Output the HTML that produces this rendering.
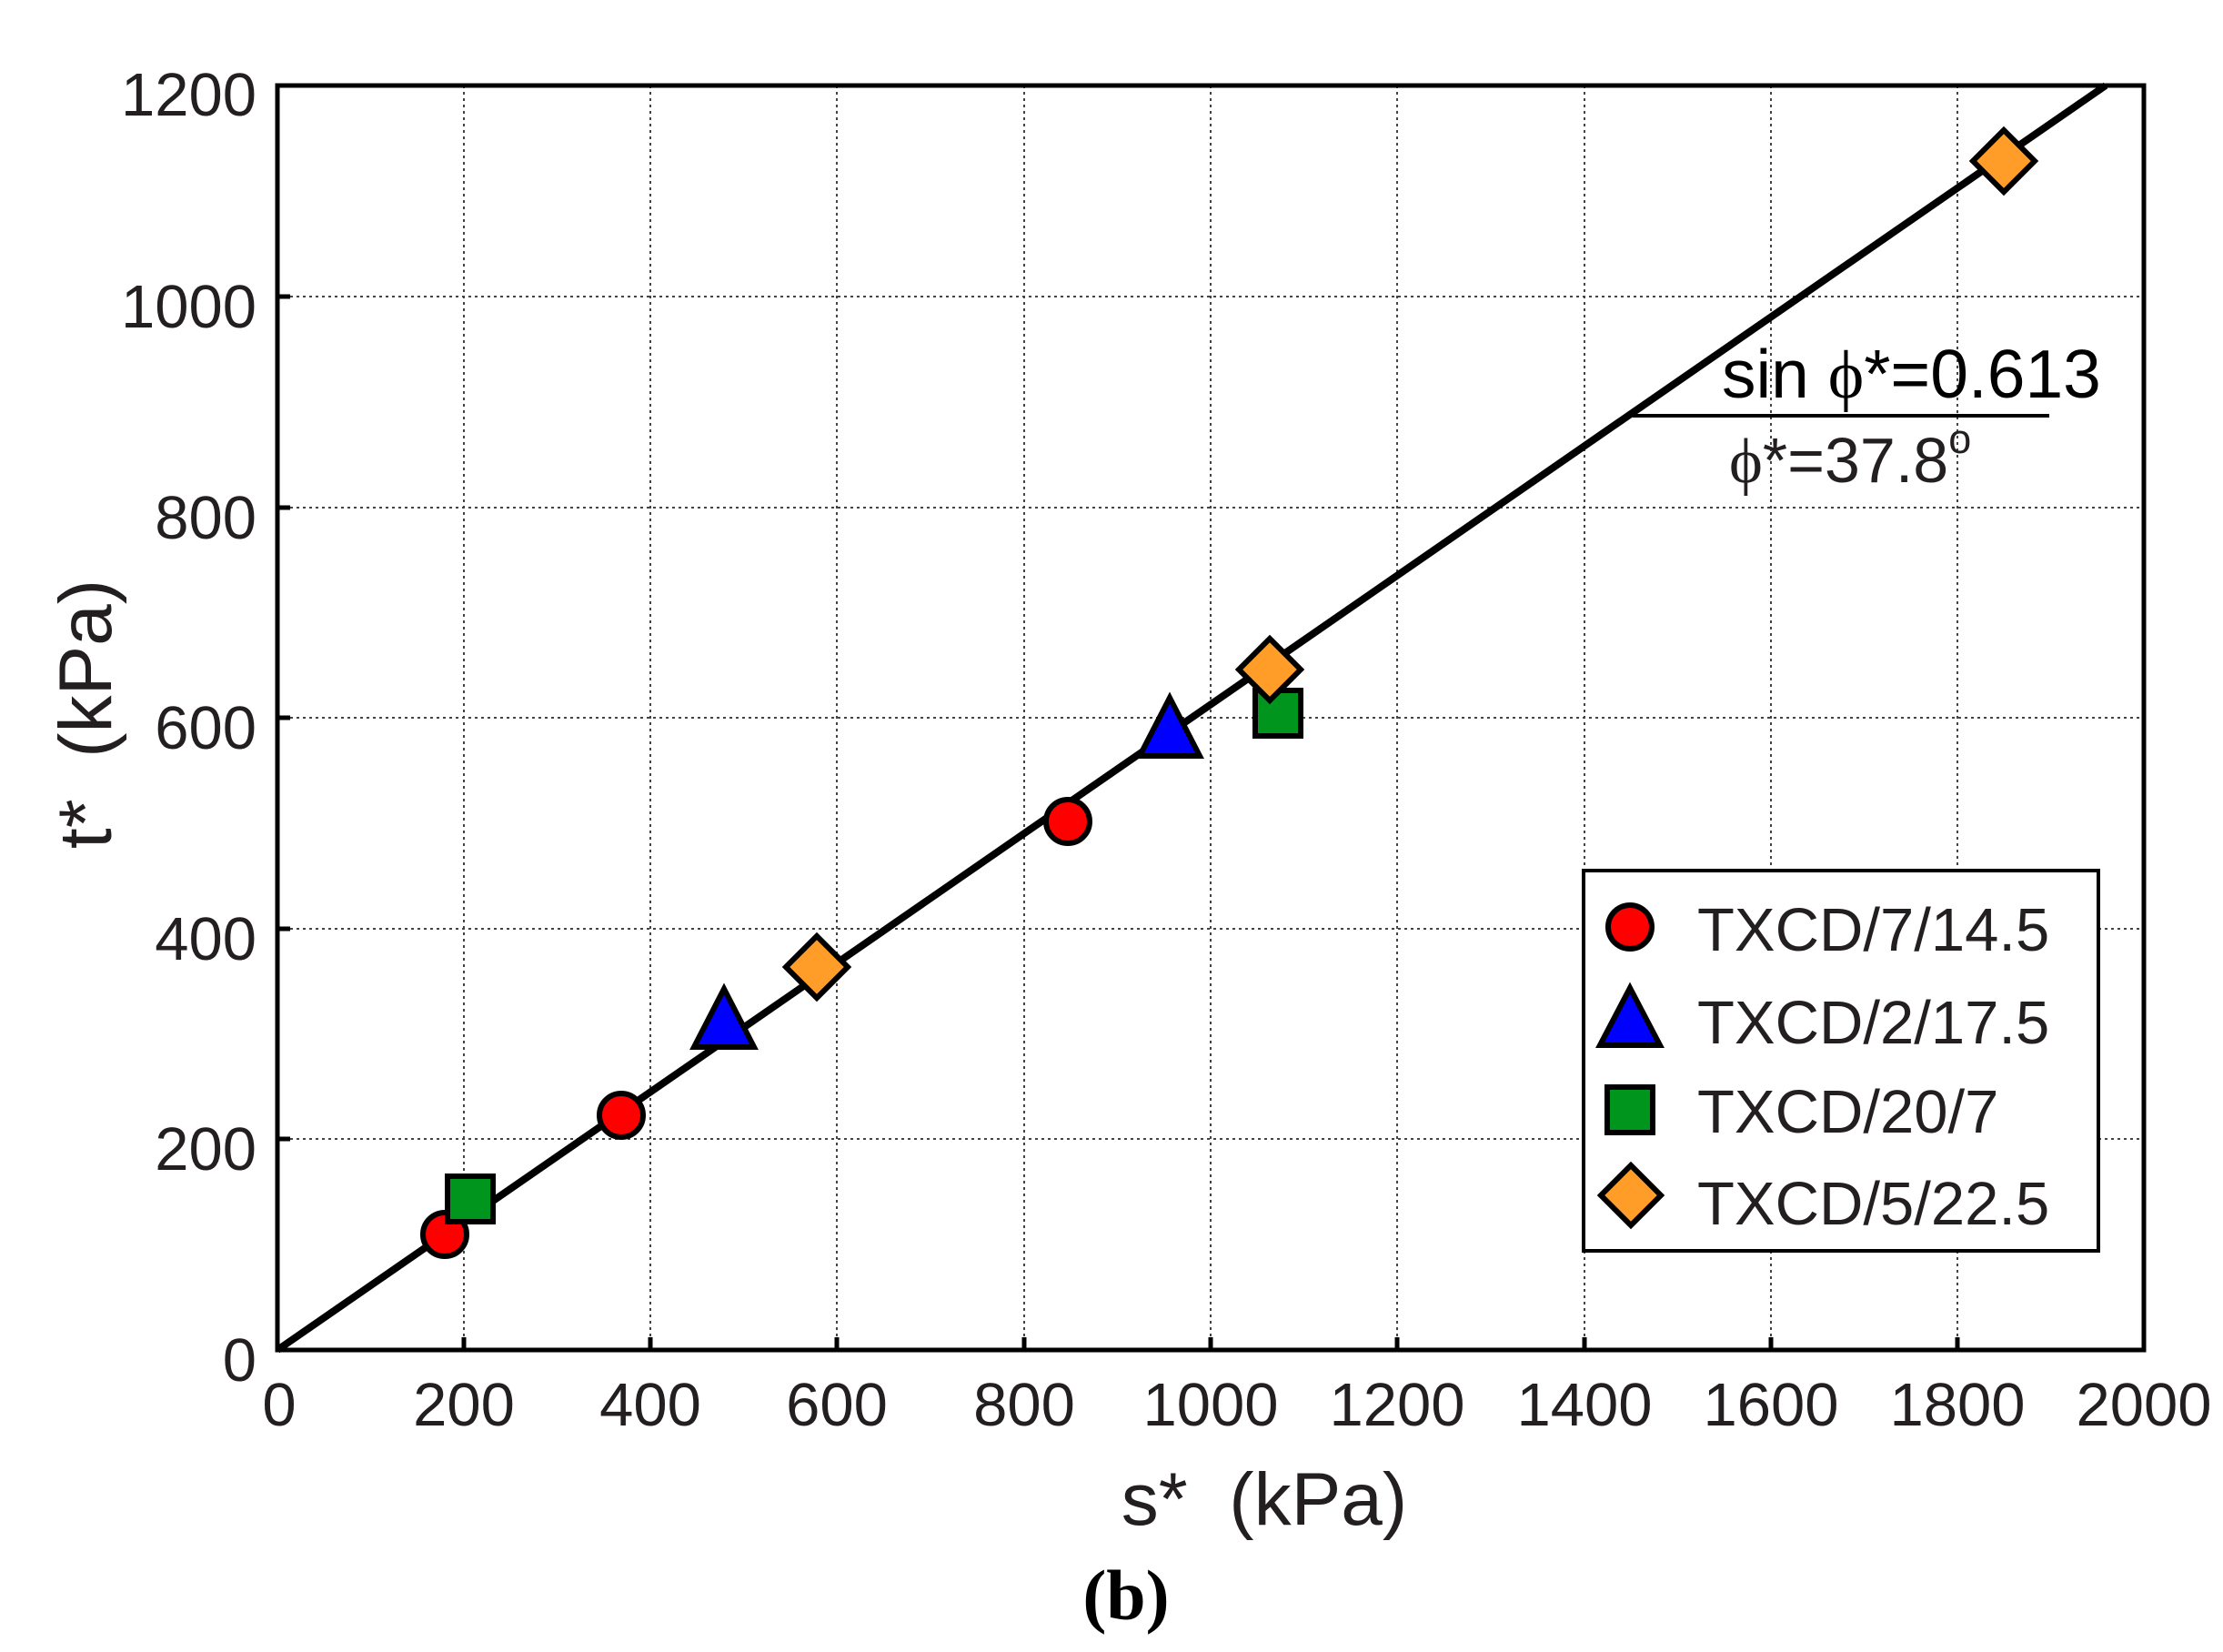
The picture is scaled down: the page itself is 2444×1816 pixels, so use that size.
<!DOCTYPE html>
<html><head><meta charset="utf-8"><style>html,body{margin:0;padding:0;background:#fff}svg{display:block}</style></head>
<body>
<svg width="2444" height="1816" viewBox="0 0 2444 1816" xmlns="http://www.w3.org/2000/svg" font-family="Liberation Sans, Arial, sans-serif">
<rect width="2444" height="1816" fill="#fff"/>
<g stroke="#444" stroke-width="2" stroke-dasharray="3,4">
<line x1="510" y1="94" x2="510" y2="1484"/><line x1="715" y1="94" x2="715" y2="1484"/><line x1="920" y1="94" x2="920" y2="1484"/><line x1="1126" y1="94" x2="1126" y2="1484"/><line x1="1331" y1="94" x2="1331" y2="1484"/><line x1="1536" y1="94" x2="1536" y2="1484"/><line x1="1742" y1="94" x2="1742" y2="1484"/><line x1="1947" y1="94" x2="1947" y2="1484"/><line x1="2152" y1="94" x2="2152" y2="1484"/>
<line x1="305" y1="326" x2="2357" y2="326"/><line x1="305" y1="558" x2="2357" y2="558"/><line x1="305" y1="789" x2="2357" y2="789"/><line x1="305" y1="1021" x2="2357" y2="1021"/><line x1="305" y1="1252" x2="2357" y2="1252"/>
</g>
<g stroke="#000" stroke-width="5">
<line x1="510" y1="1484" x2="510" y2="1470"/><line x1="715" y1="1484" x2="715" y2="1470"/><line x1="920" y1="1484" x2="920" y2="1470"/><line x1="1126" y1="1484" x2="1126" y2="1470"/><line x1="1331" y1="1484" x2="1331" y2="1470"/><line x1="1536" y1="1484" x2="1536" y2="1470"/><line x1="1742" y1="1484" x2="1742" y2="1470"/><line x1="1947" y1="1484" x2="1947" y2="1470"/><line x1="2152" y1="1484" x2="2152" y2="1470"/>
<line x1="305" y1="326" x2="319" y2="326"/><line x1="305" y1="558" x2="319" y2="558"/><line x1="305" y1="789" x2="319" y2="789"/><line x1="305" y1="1021" x2="319" y2="1021"/><line x1="305" y1="1252" x2="319" y2="1252"/>
</g>
<rect x="305" y="94" width="2052" height="1390" fill="none" stroke="#000" stroke-width="5"/>
<line x1="305" y1="1484" x2="2315" y2="94" stroke="#000" stroke-width="8"/>
<g stroke="#000" stroke-width="6">
<circle cx="489" cy="1357" r="24" fill="#f00"/>
<circle cx="683" cy="1226" r="24" fill="#f00"/>
<circle cx="1174" cy="903" r="24" fill="#f00"/>
<polygon points="796,1087 763,1151 829,1151" fill="#00f"/>
<polygon points="1286,767 1253,831 1319,831" fill="#00f"/>
<rect x="492" y="1293" width="50" height="50" fill="#00961e"/>
<rect x="1380" y="759" width="50" height="50" fill="#00961e"/>
<polygon points="898,1029 932,1063 898,1097 864,1063" fill="#ff9d28"/>
<polygon points="1396,702 1430,736 1396,770 1362,736" fill="#ff9d28"/>
<polygon points="2203,143 2237,177 2203,211 2169,177" fill="#ff9d28"/>
</g>
<rect x="1741" y="957" width="566" height="418" fill="#fff" stroke="#000" stroke-width="4"/>
<g stroke="#000" stroke-width="6">
<circle cx="1792" cy="1019" r="24" fill="#f00"/>
<polygon points="1792,1086 1759,1149 1825,1149" fill="#00f"/>
<rect x="1767" y="1195" width="50" height="50" fill="#00961e"/>
<polygon points="1793,1281 1826,1314 1793,1347 1760,1314" fill="#ff9d28"/>
</g>
<g font-size="67" fill="#231f20">
<text x="1866" y="1045">TXCD/7/14.5</text>
<text x="1866" y="1147">TXCD/2/17.5</text>
<text x="1866" y="1245">TXCD/20/7</text>
<text x="1866" y="1346">TXCD/5/22.5</text>
</g>
<g font-size="67" fill="#231f20" text-anchor="end">
<text x="282" y="127">1200</text><text x="282" y="360">1000</text><text x="282" y="592">800</text><text x="282" y="823">600</text><text x="282" y="1055">400</text><text x="282" y="1286">200</text><text x="282" y="1518">0</text>
</g>
<g font-size="67" fill="#231f20" text-anchor="middle">
<text x="307" y="1567">0</text><text x="510" y="1567">200</text><text x="715" y="1567">400</text><text x="920" y="1567">600</text><text x="1126" y="1567">800</text><text x="1331" y="1567">1000</text><text x="1536" y="1567">1200</text><text x="1742" y="1567">1400</text><text x="1947" y="1567">1600</text><text x="2152" y="1567">1800</text><text x="2357" y="1567">2000</text>
</g>
<text x="1390" y="1676" font-size="82" fill="#231f20" text-anchor="middle" xml:space="preserve">s*  (kPa)</text>
<text transform="translate(122,785) rotate(-90)" font-size="82" fill="#231f20" text-anchor="middle" xml:space="preserve">t*  (kPa)</text>
<text x="1238" y="1780" font-size="78" font-weight="bold" font-family="Liberation Serif, serif" text-anchor="middle">(b)</text>
<text x="1893" y="437" font-size="75" fill="#000">sin <tspan font-family="Liberation Serif, serif">ϕ</tspan>*=0.613</text>
<line x1="1795" y1="457" x2="2253" y2="457" stroke="#000" stroke-width="4"/>
<text x="1901" y="530" font-size="70" fill="#231f20"><tspan font-family="Liberation Serif, serif">ϕ</tspan>*=37.8<tspan font-size="45" dy="-32">o</tspan></text>
</svg>
</body></html>
